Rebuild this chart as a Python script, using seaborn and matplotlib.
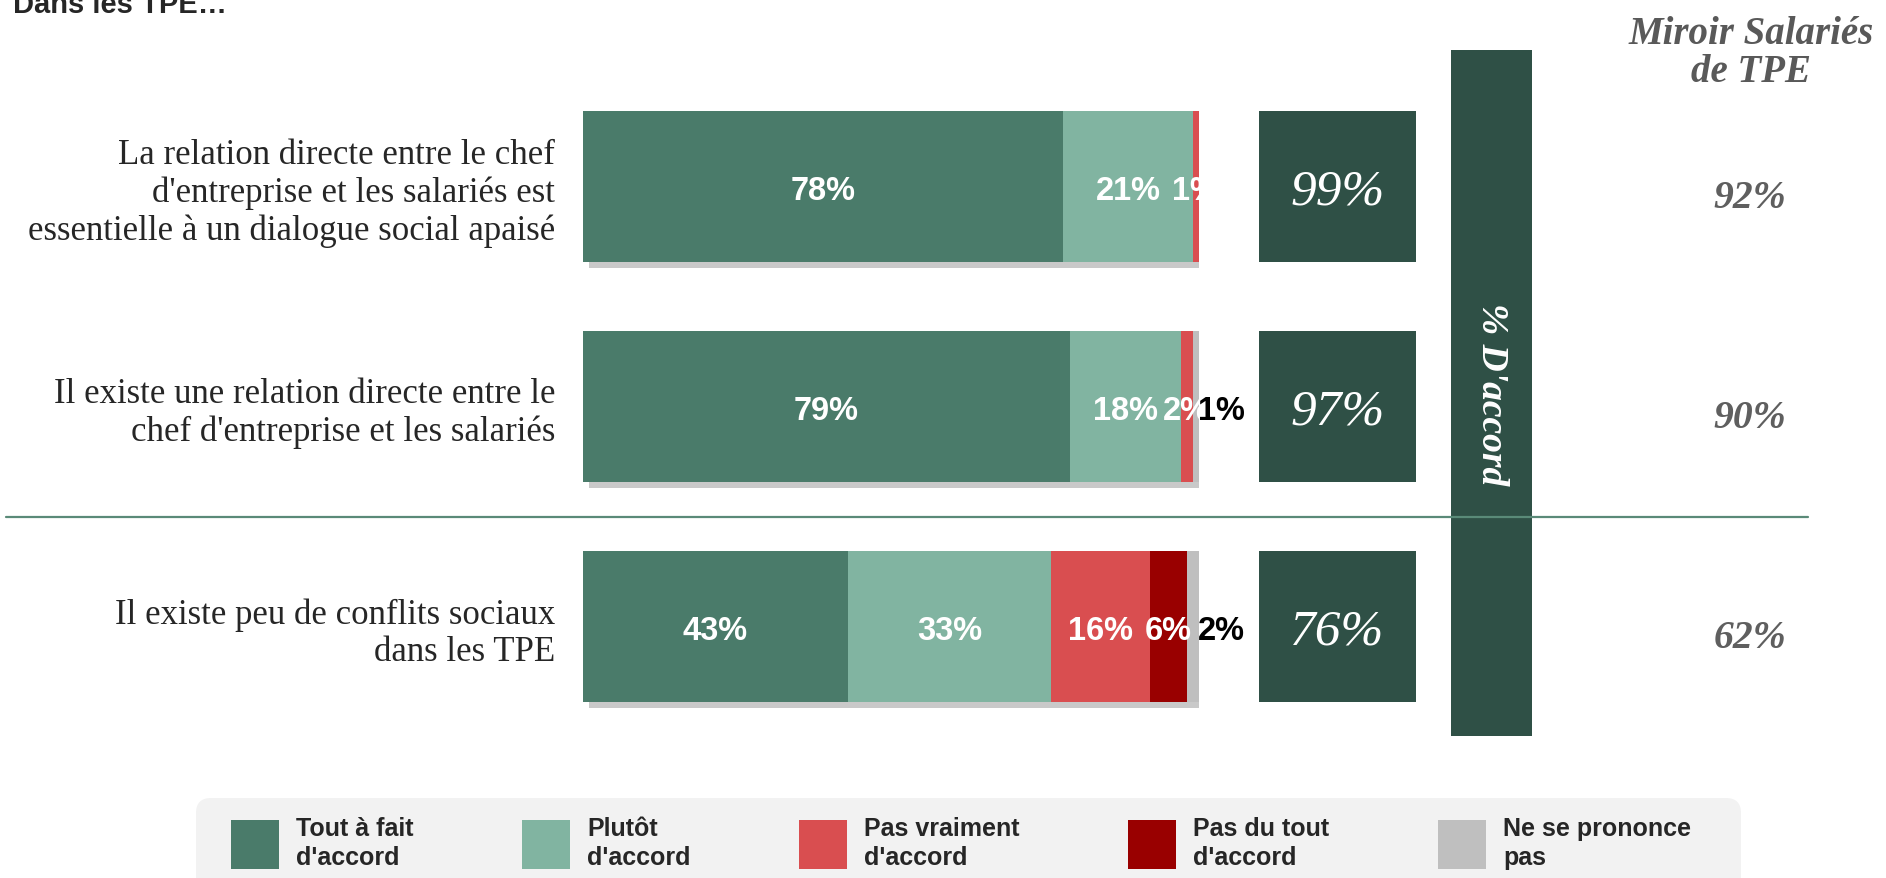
import numpy as np
import seaborn as sns
import matplotlib.pyplot as plt
from matplotlib import patheffects
from matplotlib.patches import Patch, FancyBboxPatch
from matplotlib.lines import Line2D

categories = [
    "La relation directe entre le chef\nd'entreprise et les salariés est\nessentielle à un dialogue social apaisé",
    "Il existe une relation directe entre le\nchef d'entreprise et les salariés",
    "Il existe peu de conflits sociaux\ndans les TPE",
]
tout_a_fait = [78, 79, 43]
plutot = [21, 18, 33]
pas_vraiment = [1, 2, 16]
pas_du_tout = [0, 0, 6]
nsp = [0, 1, 2]
miroir = [92, 90, 62]

legend_labels = ["Tout à fait\nd'accord", "Plutôt\nd'accord", "Pas vraiment\nd'accord",
                 "Pas du tout\nd'accord", "Ne se prononce\npas"]
colors = ["#4A7B6A", "#81B4A1", "#D94E50", "#990000", "#BFBFBF"]
box_color = "#2F5046"

sns.set_style("white")
plt.rcParams["font.family"] = ["Liberation Sans", "DejaVu Sans"]

values = np.array([tout_a_fait, plutot, pas_vraiment, pas_du_tout, nsp]).T
cum = values.cumsum(axis=1)
totals = values[:, 0] + values[:, 1]

W, H = 1886, 879
fig = plt.figure(figsize=(W / 100, H / 100), dpi=100)
bottom, height = 1 - 737.5 / H, 660 / H
ax = fig.add_axes([583 / W, bottom, 616 / W, height])

# stacked bars: draw cumulative sums from the longest to the shortest
for k in range(values.shape[1] - 1, -1, -1):
    n_before = len(ax.patches)
    sns.barplot(x=cum[:, k], y=categories, color=colors[k], saturation=1, width=0.686,
                orient="y", errorbar=None, linewidth=0, ax=ax)
    if k == values.shape[1] - 1:
        for p in ax.patches[n_before:]:
            p.set_path_effects([patheffects.SimplePatchShadow(offset=(4, -4), shadow_rgbFace="#7a7a7a", alpha=0.4),
                                patheffects.Normal()])

for i in range(len(categories)):
    for k in range(values.shape[1]):
        v = values[i, k]
        if v == 0:
            continue
        if k == values.shape[1] - 1:
            ax.text(cum[i, k] + 3.7, i + 0.02, f"{v}%", ha="center", va="center",
                    fontsize=23.5, fontweight="bold", color="black")
        else:
            ax.text(cum[i, k] - v / 2, i + 0.02, f"{v}%", ha="center", va="center",
                    fontsize=23.5, fontweight="bold", color="white")

ax.set_xlim(0, 100)
ax.set_xlabel("")
ax.set_ylabel("")
ax.set_xticks([])
ax.set_yticks(range(len(categories)), labels=categories, fontsize=25,
              family="Liberation Serif", ha="right", linespacing=1.18)
ax.tick_params(axis="y", length=0, pad=20)
sns.despine(ax=ax, left=True, bottom=True)

# total "d'accord" boxes
ax_t = fig.add_axes([1259 / W, bottom, 157 / W, height])
sns.barplot(x=[1] * len(categories), y=categories, color=box_color, saturation=1, width=0.686,
            orient="y", errorbar=None, linewidth=0, ax=ax_t)
ax_t.set_xlim(0, 1)
for i, t in enumerate(totals):
    ax_t.text(0.5, i + 0.02, f"{t}%", ha="center", va="center", fontsize=37, style="italic",
              family="Liberation Serif", color="white")
ax_t.axis("off")

# vertical "% D'accord" band
ax_v = fig.add_axes([1451 / W, 1 - 737 / H, 81 / W, 686 / H])
ax_v.set_facecolor(box_color)
ax_v.set_xticks([])
ax_v.set_yticks([])
sns.despine(ax=ax_v, left=True, bottom=True)
ax_v.text(0.5, 0.5, "% D'accord", rotation=270, ha="center", va="center", fontsize=27,
          fontweight="bold", style="italic", family="Liberation Serif", color="white",
          transform=ax_v.transAxes)

# miroir salariés column
ax_m = fig.add_axes([1650 / W, bottom, 200 / W, height])
ax_m.set_ylim(ax.get_ylim())
ax_m.set_xlim(0, 1)
for i, m in enumerate(miroir):
    ax_m.text(0.5, i + 0.05, f"{m}%", ha="center", va="center", fontsize=28.5, fontweight="bold",
              style="italic", family="Liberation Serif", color="#5F5F5F")
ax_m.axis("off")
fig.text(1751 / W, 1 - 16 / H, "Miroir Salariés\nde TPE", ha="center", va="top", fontsize=28,
         fontweight="bold", style="italic", family="Liberation Serif", color="#595959",
         linespacing=1.05)

fig.text(13 / W, 1 - 13 / H, "Dans les TPE…", ha="left", va="baseline", fontsize=21,
         fontweight="bold")

fig.add_artist(Line2D([6 / W, 1808 / W], [1 - 518 / H, 1 - 518 / H], color="#5A8A78", lw=1.6))

# legend background panel
fig.add_artist(FancyBboxPatch((1.96, -0.3), 15.45, 1.10, boxstyle="round,pad=0,rounding_size=0.15",
                              facecolor="#F2F2F2", edgecolor="none", transform=fig.dpi_scale_trans,
                              zorder=0))

handles = [Patch(facecolor=c, edgecolor="none") for c in colors]
leg = fig.legend(handles, legend_labels, loc="upper left",
                 bbox_to_anchor=(211 / W, 0, 1500 / W, 1 - 797 / H), mode="expand",
                 ncol=5, prop={"weight": "bold", "size": 18},
                 handlelength=1.92, handleheight=2.6, handletextpad=0.68, borderaxespad=0,
                 borderpad=0.8, frameon=False)
for t in leg.get_texts():
    t.set_linespacing(1.28)

fig.savefig("out.png", dpi=100)
